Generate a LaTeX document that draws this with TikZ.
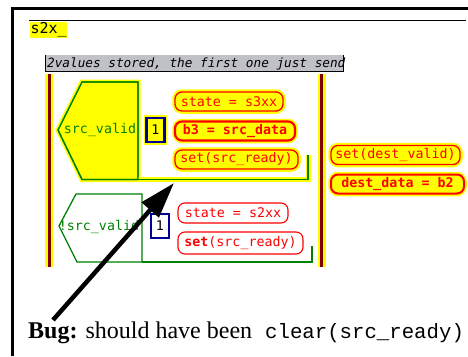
\documentclass[tikz,border=0pt]{standalone}
\usepackage{fontspec}
\setmainfont{Liberation Serif}
\newfontfamily\pix{DejaVu Sans Mono}
\newfontfamily\cour{Liberation Mono}
\usetikzlibrary{arrows.meta}

\definecolor{hl}{RGB}{255,255,0}
\definecolor{actred}{RGB}{255,0,0}
\definecolor{condgreen}{RGB}{0,128,0}
\definecolor{navy}{RGB}{0,0,150}
\definecolor{barred}{RGB}{128,0,0}
\definecolor{notegray}{RGB}{192,192,200}

\tikzset{
  pixfont/.style={font=\pix\fontsize{13.3}{15}\selectfont},
  pixbold/.style={font=\pix\bfseries\fontsize{13.3}{15}\selectfont},
  glow/.style={preaction={draw=hl, line width=#1}},
  glow/.default=5.5pt,
  act/.style={pixfont, text=actred, draw=actred, line width=1.3pt, fill=hl,
    rounded corners=7pt, glow, inner sep=0pt, minimum height=19pt},
  actplain/.style={pixfont, text=actred, draw=actred, line width=1.1pt, fill=white,
    rounded corners=7pt, inner sep=0pt, minimum height=20pt},
  prio/.style={pixfont, draw=navy, line width=2.4pt, inner sep=0pt,
    minimum width=18pt, minimum height=24pt},
  cond/.style={draw=condgreen, line width=1.3pt},
  bar/.style={draw=barred, line width=3pt},
  barglow/.style={draw=hl, line width=8pt},
}

\begin{document}
\begin{tikzpicture}[x=1pt,y=-1pt]
\useasboundingbox (0,0) rectangle (468,356);

% page frame and header rule
\draw[line width=3pt] (12.5,356) -- (12.5,8.5) -- (468,8.5);
\draw[line width=1pt] (29,20.5) -- (466,20.5);

% state name
\node[fill=hl, inner sep=0pt, minimum width=37pt, minimum height=16pt, anchor=north west,
      font=\pix\fontsize{15}{16}\selectfont, text=black] (stname) at (30,22) {s2x\_\hspace{1pt}};

% comment box
\fill[notegray] (45,54.5) rectangle (344,72);
\draw[line width=1pt] (45.5,54.5) -- (45.5,71.5) -- (343.5,71.5) -- (343.5,54.5);
\node[anchor=west, inner sep=0pt, font=\pix\itshape\fontsize{12.7}{15}\selectfont] (note)
  at (47,63.5) {2values stored, the first one just send};

% transition bars
\draw[barglow] (49,74) -- (49,267);
\draw[bar] (49.5,74) -- (49.5,267);
\draw[barglow] (322,74) -- (322,267);
\draw[bar] (321.5,74) -- (321.5,267);

% first guarded branch (highlighted)
\draw[cond, fill=hl, glow=5pt] (58,130) -- (82,82) -- (138,82) -- (138,179.5) -- (82,179.5) -- cycle;
\draw[cond, glow=5pt] (138,179.5) -- (308,179.5) -- (308,155);
\draw[cond] (58,130) -- (82,82) -- (138,82) -- (138,179.5) -- (82,179.5) -- cycle;
\node[pixfont, text=condgreen, inner sep=0pt] (g1) at (100,130) {src\_valid};
\node[prio, fill=hl, glow, text=black] (p1) at (155.5,130) {1};
\node[act, minimum width=108pt] (a1) at (229,101.5) {state = s3xx};
\node[act, minimum width=120pt, line width=2.2pt, pixbold] (a2) at (235,131) {b3 = src\_data};
\node[act, minimum width=123pt] (a3) at (236.5,159.5) {set(src\_ready)};

% second guarded branch
\draw[cond, fill=white] (59,226) -- (76,194) -- (142,194) -- (142,262) -- (77,262) -- cycle;
\draw[cond] (142,262) -- (312,262) -- (312,246);
\node[pixfont, text=condgreen, inner sep=0pt] (g2) at (99,227) {!src\_valid};
\node[prio, fill=white, text=black] (p2) at (160,226) {1};
\node[actplain, minimum width=110pt] (b1) at (233,213) {state = s2xx};
\node[actplain, minimum width=125pt, minimum height=22pt] (b2) at (240.5,243)
  {\textbf{set}(src\_ready)};

% actions after the transition
\node[act, minimum width=129pt] (c1) at (395.5,155) {set(dest\_valid)};
\node[act, minimum width=133pt, line width=2pt, pixbold] (c2) at (397.5,184) {dest\_data = b2};

% annotation
\node[anchor=base west, inner sep=0pt, font=\fontsize{24}{28}\selectfont] (bug) at (28,338)
  {\textbf{Bug:} should have been};
\node[anchor=base west, inner sep=0pt, font=\cour\fontsize{20.7}{24}\selectfont] (fix) at (265,338)
  {clear(src\_ready)};
\coordinate (tail) at (53,320);
\coordinate (tip) at (174,183);
\draw[line width=4.5pt, -{Triangle[length=36pt,width=22pt]}] (tail) -- (tip);
\end{tikzpicture}
\end{document}
